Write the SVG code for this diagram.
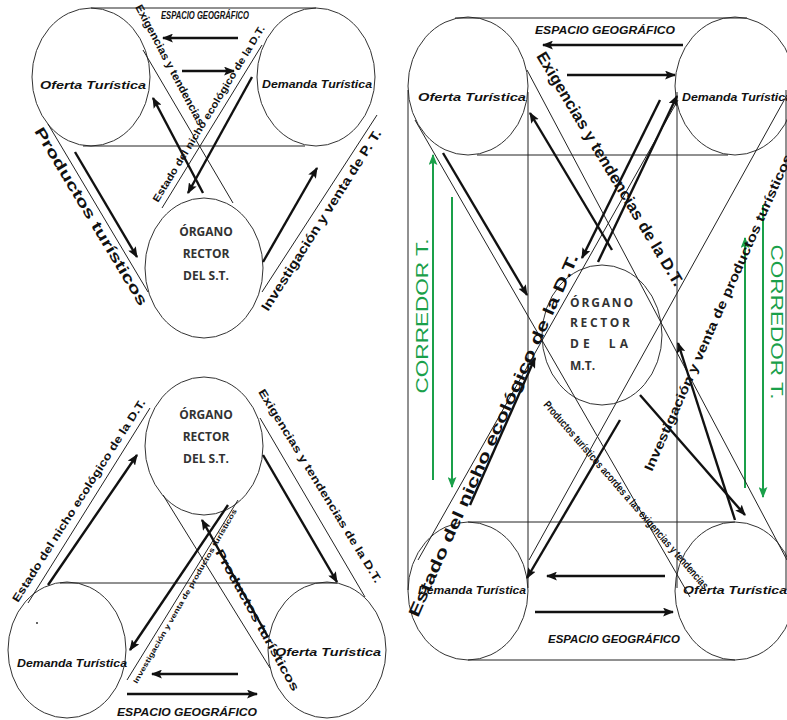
<svg xmlns="http://www.w3.org/2000/svg" width="787" height="720" viewBox="0 0 787 720">
<style>
.c{fill:none;stroke:#333;stroke-width:1}
.t{stroke:#222;stroke-width:1;fill:none}
.k{stroke:#111;stroke-width:2.4;fill:none;marker-end:url(#ah)}
.g{stroke:#1aa04a;stroke-width:2;fill:none;marker-end:url(#gh)}
.n{font-family:"Liberation Sans",Arial,sans-serif;font-weight:bold;font-style:italic;font-size:11px;fill:#111}
.e{font-family:"Liberation Sans",Arial,sans-serif;font-weight:bold;font-style:italic;font-size:10px;fill:#111}
.o{font-family:"Open Sans","Liberation Sans",sans-serif;font-weight:bold;font-size:12px;fill:#333;text-anchor:middle}
.o2{font-family:"Open Sans","Liberation Sans",sans-serif;font-weight:bold;font-size:12px;fill:#333}
.d{font-family:"Liberation Sans",Arial,sans-serif;font-weight:bold;fill:#111}
.gr{font-family:"Liberation Sans",Arial,sans-serif;font-size:16px;fill:#1aa04a}
</style>
<defs>
<marker id="ah" viewBox="0 0 10 8" refX="9" refY="4" markerWidth="11" markerHeight="9" orient="auto" markerUnits="userSpaceOnUse"><path d="M0,0 L10,4 L0,8 L2,4 z" fill="#111"/></marker>
<marker id="gh" viewBox="0 0 10 8" refX="9" refY="4" markerWidth="11" markerHeight="9" orient="auto" markerUnits="userSpaceOnUse"><path d="M0,0 L10,4 L0,8 L2,4 z" fill="#1aa04a"/></marker>
</defs>
<rect width="787" height="720" fill="#fff"/>

<!-- ===== Top-left diagram ===== -->
<g id="tl-oferta"><ellipse class="c" cx="91" cy="77" rx="59" ry="69"/><text class="n" x="93" y="89" text-anchor="middle" textLength="106" lengthAdjust="spacingAndGlyphs">Oferta Turística</text></g>
<g id="tl-demanda"><ellipse class="c" cx="316" cy="77" rx="59" ry="69"/><text class="n" x="317" y="88" text-anchor="middle" textLength="110" lengthAdjust="spacingAndGlyphs">Demanda Turística</text></g>
<g id="tl-organo"><ellipse class="c" cx="204" cy="268" rx="59" ry="70"/><text class="o" x="206" y="236">ÓRGANO</text><text class="o" x="206" y="258">RECTOR</text><text class="o" x="206" y="280">DEL S.T.</text></g>
<g id="tl-connectors">
<line class="t" x1="91" y1="8" x2="316" y2="8"/>
<line class="t" x1="83" y1="146" x2="305" y2="146"/>
<text class="e" x="205" y="19" text-anchor="middle" font-size="8" textLength="88" lengthAdjust="spacingAndGlyphs">ESPACIO GEOGRÁFICO</text>
<line class="k" x1="238" y1="38" x2="163" y2="38"/>
<line class="k" x1="182" y1="71" x2="234" y2="71"/>
<line class="t" x1="48" y1="124" x2="148" y2="292"/>
<text class="d" font-size="15" transform="translate(34,131) rotate(59)" textLength="205" lengthAdjust="spacingAndGlyphs">Productos turísticos</text>
<line class="k" x1="75" y1="152" x2="137" y2="257"/>
<line class="t" x1="262" y1="292" x2="377" y2="115"/>
<text class="d" font-size="13" transform="translate(268,312) rotate(-57.5)" textLength="212" lengthAdjust="spacingAndGlyphs">Investigación y venta de P. T.</text>
<line class="k" x1="263" y1="262" x2="317" y2="168"/>
<line class="t" x1="143" y1="50" x2="233" y2="203"/>
<text class="d" font-size="11" transform="translate(135,7) rotate(62)" textLength="135" lengthAdjust="spacingAndGlyphs">Exigencias y tendencias</text>
<line class="t" x1="262" y1="45" x2="162" y2="208"/>
<text class="d" font-size="10" transform="translate(158,203) rotate(-58.5)" textLength="205" lengthAdjust="spacingAndGlyphs">Estado del nicho ecológico de la D.T.</text>
<line class="k" x1="203" y1="193" x2="153" y2="98"/>
<line class="k" x1="252" y1="77" x2="188" y2="193"/>
</g>

<!-- ===== Bottom-left diagram ===== -->
<g id="bl-organo"><ellipse class="c" cx="204" cy="446" rx="59" ry="69"/><text class="o" x="206" y="419">ÓRGANO</text><text class="o" x="206" y="441">RECTOR</text><text class="o" x="206" y="463">DEL S.T.</text></g>
<g id="bl-demanda"><ellipse class="c" cx="67" cy="650" rx="59" ry="68"/><text class="n" x="72" y="667" text-anchor="middle" textLength="110" lengthAdjust="spacingAndGlyphs">Demanda Turística</text><circle cx="37" cy="623" r="1" fill="#333"/></g>
<g id="bl-oferta"><ellipse class="c" cx="327" cy="650" rx="59" ry="68"/><text class="n" x="328" y="656" text-anchor="middle" textLength="106" lengthAdjust="spacingAndGlyphs">Oferta Turística</text></g>
<g id="bl-connectors">
<line class="t" x1="60" y1="583" x2="337" y2="583"/>
<line class="k" x1="238" y1="674" x2="152" y2="674"/>
<line class="k" x1="127" y1="694" x2="257" y2="694"/>
<text class="e" x="187" y="716" text-anchor="middle" textLength="140" lengthAdjust="spacingAndGlyphs">ESPACIO GEOGRÁFICO</text>
<line class="t" x1="28" y1="603" x2="150" y2="408"/>
<text class="d" font-size="11" transform="translate(18,603) rotate(-57.5)" textLength="238" lengthAdjust="spacingAndGlyphs">Estado del nicho ecológico de la D.T.</text>
<line class="k" x1="48" y1="585" x2="137" y2="455"/>
<line class="t" x1="260" y1="418" x2="365" y2="597"/>
<text class="d" font-size="11" transform="translate(258,392) rotate(58.5)" textLength="225" lengthAdjust="spacingAndGlyphs">Exigencias y tendencias de la D.T.</text>
<line class="k" x1="263" y1="455" x2="337" y2="582"/>
<line class="t" x1="163" y1="495" x2="270" y2="668"/>
<line class="t" x1="238" y1="500" x2="127" y2="680"/>
<text class="d" font-size="7" transform="translate(137,684) rotate(-60)" textLength="200" lengthAdjust="spacingAndGlyphs">Investigación y venta de productos turísticos</text>
<text class="d" font-size="12" transform="translate(215,552) rotate(61)" textLength="160" lengthAdjust="spacingAndGlyphs">Productos turísticos</text>
<line class="k" x1="228" y1="505" x2="130" y2="650"/>
<line class="k" x1="268" y1="637" x2="202" y2="520"/>
</g>

<!-- ===== Right diagram ===== -->
<g id="r-oferta-top"><ellipse class="c" cx="468" cy="86" rx="60" ry="69"/><text class="n" x="472" y="101" text-anchor="middle" textLength="108" lengthAdjust="spacingAndGlyphs">Oferta Turística</text></g>
<g id="r-demanda-top"><ellipse class="c" cx="735" cy="86" rx="60" ry="69"/><text class="n" x="682" y="101" textLength="110" lengthAdjust="spacingAndGlyphs">Demanda Turística</text></g>
<g id="r-demanda-bottom"><ellipse class="c" cx="468" cy="591" rx="60" ry="69"/><text class="n" x="472" y="594" text-anchor="middle" textLength="108" lengthAdjust="spacingAndGlyphs">Demanda Turística</text></g>
<g id="r-oferta-bottom"><ellipse class="c" cx="735" cy="591" rx="60" ry="69"/><text class="n" x="683" y="594" textLength="104" lengthAdjust="spacingAndGlyphs">Oferta Turística</text></g>
<g id="r-organo"><ellipse class="c" cx="602" cy="335" rx="60" ry="70"/><text class="o2" x="570" y="307" textLength="63">ÓRGANO</text><text class="o2" x="570" y="327" textLength="60">RECTOR</text><text class="o2" x="570" y="348" textLength="58" xml:space="preserve">DE  LA</text><text class="o2" x="570" y="370">M.T.</text></g>
<g id="r-connectors">
<line class="t" x1="455" y1="18" x2="747" y2="18"/>
<line class="t" x1="477" y1="155" x2="728" y2="155"/>
<line class="t" x1="468" y1="522" x2="735" y2="522"/>
<line class="t" x1="468" y1="660" x2="735" y2="660"/>
<line class="t" x1="408" y1="90" x2="408" y2="590"/>
<line class="t" x1="528" y1="92" x2="528" y2="588"/>
<line class="t" x1="677" y1="92" x2="677" y2="588"/>
<line class="t" x1="786" y1="90" x2="786" y2="590"/>
<text class="e" x="605" y="34" text-anchor="middle" textLength="140" lengthAdjust="spacingAndGlyphs">ESPACIO GEOGRÁFICO</text>
<line class="k" x1="683" y1="45" x2="543" y2="45"/>
<line class="k" x1="567" y1="75" x2="675" y2="75"/>
<text class="e" x="614" y="643" text-anchor="middle" textLength="132" lengthAdjust="spacingAndGlyphs">ESPACIO GEOGRÁFICO</text>
<line class="k" x1="665" y1="576" x2="547" y2="576"/>
<line class="k" x1="535" y1="612" x2="673" y2="612"/>
<text class="gr" transform="translate(428,316) rotate(-90)" text-anchor="middle" textLength="155" lengthAdjust="spacingAndGlyphs">CORREDOR T.</text>
<text class="gr" transform="translate(771,322) rotate(90)" text-anchor="middle" textLength="155" lengthAdjust="spacingAndGlyphs">CORREDOR T.</text>
<line class="g" x1="433" y1="480" x2="433" y2="155"/>
<line class="g" x1="452" y1="197" x2="452" y2="487"/>
<line class="g" x1="745" y1="488" x2="745" y2="238"/>
<line class="g" x1="763" y1="205" x2="763" y2="497"/>
<line class="t" x1="415" y1="120" x2="690" y2="597"/>
<line class="t" x1="527" y1="70" x2="787" y2="560"/>
<line class="t" x1="678" y1="100" x2="418" y2="560"/>
<line class="t" x1="787" y1="95" x2="529" y2="560"/>
<text class="d" font-size="16" transform="translate(536,56) rotate(59)" textLength="270" lengthAdjust="spacingAndGlyphs">Exigencias y tendencias de la D.T.</text>
<text class="d" font-size="16" transform="translate(418,618) rotate(-66)" textLength="395" lengthAdjust="spacingAndGlyphs">Estado del nicho ecológico de la D.T.</text>
<text class="d" font-size="13" transform="translate(652,472) rotate(-66)" textLength="345" lengthAdjust="spacingAndGlyphs">Investigación y venta de productos turísticos</text>
<text class="d" font-size="11" transform="translate(543,405) rotate(49)" textLength="245" lengthAdjust="spacingAndGlyphs">Productos turísticos acordes a las exigencias y tendencias</text>
<line class="k" x1="443" y1="153" x2="527" y2="295"/>
<line class="k" x1="612" y1="250" x2="530" y2="113"/>
<line class="k" x1="598" y1="262" x2="677" y2="96"/>
<line class="k" x1="660" y1="100" x2="582" y2="258"/>
<line class="k" x1="470" y1="505" x2="535" y2="358"/>
<line class="k" x1="620" y1="420" x2="527" y2="578"/>
<line class="k" x1="640" y1="395" x2="745" y2="515"/>
<line class="k" x1="735" y1="520" x2="678" y2="343"/>
</g>
</svg>
